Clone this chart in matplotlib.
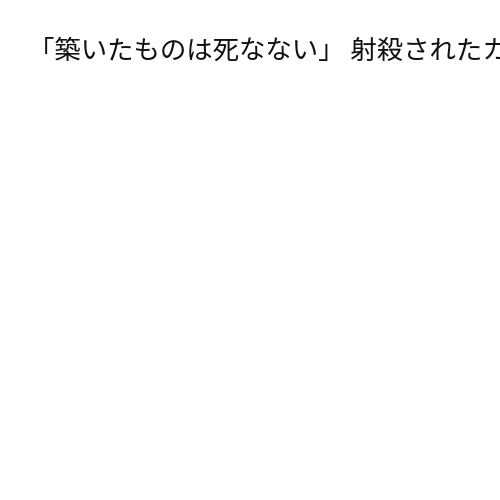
import matplotlib
matplotlib.use("Agg")
import matplotlib.pyplot as plt

plt.rcParams['font.family'] = ['Noto Sans CJK JP', 'DejaVu Sans']

# Title text (the rest of the title runs off the right edge, as in the reference)
title_text = "「築いたものは死なない」 射殺されたカ"

fig = plt.figure(figsize=(5, 5), dpi=100)
fig.patch.set_facecolor("white")

fig.text(28 / 500, 1 - 51 / 500, title_text, fontsize=19,
         ha="left", va="center", color="#111111")

fig.savefig("out.png", dpi=100)
